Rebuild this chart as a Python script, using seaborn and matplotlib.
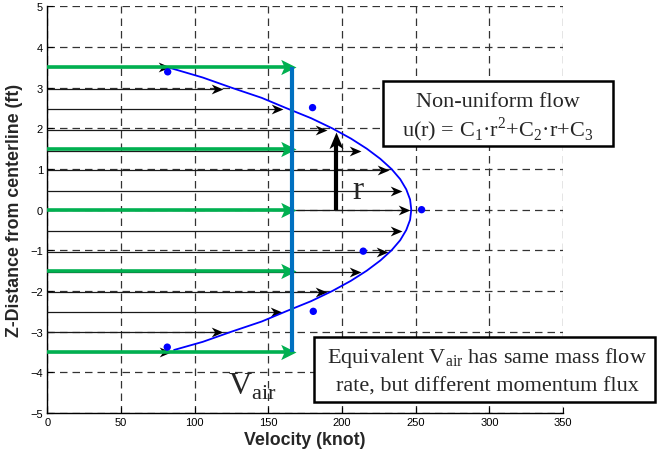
import numpy as np
import pandas as pd
import matplotlib
matplotlib.use("Agg")
import matplotlib.pyplot as plt
from matplotlib.path import Path
from matplotlib.patches import Rectangle
import seaborn as sns

# ---------------- data ----------------
x_ticks = [0, 50, 100, 150, 200, 250, 300, 350]
y_ticks = [-5, -4, -3, -2, -1, 0, 1, 2, 3, 4, 5]

# velocity-profile arrows (height r in ft, arrow tip velocity in knot)
arrow_r = [3.5, 2.97, 2.47, 1.96, 1.45, 0.98, 0.45, 0.0,
           -0.52, -1.04, -1.53, -2.02, -2.52, -3.0, -3.5]
arrow_tip = [83, 119.5, 160, 190, 213, 232, 240.5, 246,
             240.5, 231, 213, 190, 159, 119.5, 84]

# fitted parabolic profile u(r)
curve_r = [3.5, 3.25, 3.0, 2.75, 2.5, 2.25, 2.0, 1.75, 1.5, 1.25, 1.0, 0.75,
           0.5, 0.25, 0.0, -0.25, -0.5, -0.75, -1.0, -1.25, -1.5, -1.75,
           -2.0, -2.25, -2.5, -2.75, -3.0, -3.25, -3.45]
curve_u = [82, 105.5, 125, 145.5, 162, 179, 193.4, 206, 216.8, 226, 233.6,
           239.5, 243.6, 246.2, 247, 246.2, 243.6, 239.5, 233.6, 226, 216.8,
           206, 193.4, 179, 162, 145.5, 125, 105.5, 86]

# measured points
meas_u = [81.7, 180, 254, 214.4, 180.5, 81.4]
meas_r = [3.39, 2.51, 0.0, -1.02, -2.5, -3.38]

# equivalent uniform flow
v_air = 166
green_r = [3.5, 1.5, 0.0, -1.5, -3.5]
green_tip = [169, 169, 169, 169, 169]

r_arrow_x = 196
r_arrow_top = 1.92

# ---------------- style ----------------
sns.set_style("white")
plt.rcParams['font.family'] = ['Liberation Sans', 'DejaVu Sans']

fig = plt.figure(figsize=(6.57, 4.60), dpi=100)
ax = fig.add_axes([0.072, 0.100, 0.785, 0.884])

def stealth_right(hw=0.45, notch=0.72):
    verts = [(0, 0), (-1, hw), (-notch, 0), (-1, -hw), (0, 0)]
    codes = [Path.MOVETO, Path.LINETO, Path.LINETO, Path.LINETO, Path.CLOSEPOLY]
    return Path(verts, codes)

def stealth_up(hw=0.42, notch=0.72):
    verts = [(0, 0), (hw, -1), (0, -notch), (-hw, -1), (0, 0)]
    codes = [Path.MOVETO, Path.LINETO, Path.LINETO, Path.LINETO, Path.CLOSEPOLY]
    return Path(verts, codes)

# black profile arrows
for r, t in zip(arrow_r, arrow_tip):
    ax.plot([0, t - 3], [r, r], color='#1a1a1a', lw=0.9, zorder=3,
            solid_capstyle='butt')
ax.plot(arrow_tip, arrow_r, ls='none', marker=stealth_right(0.42, 0.7),
        ms=17, color='black', mew=0, zorder=3)

# parabolic curve
curve_df = pd.DataFrame({'u': curve_u, 'r': curve_r})
sns.lineplot(data=curve_df, x='u', y='r', sort=False, estimator=None,
             color='#0000ff', lw=1.3, ax=ax, zorder=4)

# green uniform-flow arrows
for r, t in zip(green_r, green_tip):
    ax.plot([0, t - 4], [r, r], color='#00b050', lw=2.6, zorder=5,
            solid_capstyle='butt')
ax.plot(green_tip, green_r, ls='none', marker=stealth_right(0.5, 0.78),
        ms=22, color='#00b050', mew=0, zorder=5)

# blue V_air line
ax.plot([v_air, v_air], [max(green_r), min(green_r)], color='#0070c0',
        lw=3.0, zorder=6, solid_capstyle='butt')

# measured dots
meas_df = pd.DataFrame({'u': meas_u, 'r': meas_r})
sns.scatterplot(data=meas_df, x='u', y='r', color='#0000ff', s=28,
                edgecolor='none', ax=ax, zorder=7)

# thick r arrow
ax.plot([r_arrow_x, r_arrow_x], [0, r_arrow_top - 0.25], color='black',
        lw=3.0, zorder=8, solid_capstyle='butt')
ax.plot([r_arrow_x], [r_arrow_top], ls='none', marker=stealth_up(0.42, 0.72),
        ms=24, color='black', mew=0, zorder=8)
ax.text(211, 0.5, 'r', fontsize=24, family=['Liberation Serif'],
        ha='center', va='center', zorder=9)

# V_air label
ax.text(122.6, -4.53, r'V$_\mathregular{air}$', fontsize=23,
        family=['Liberation Serif'], ha='left', va='baseline', zorder=9)

# axes
ax.set_xlim(0, 350)
ax.set_ylim(-5, 5)
ax.set_xticks(x_ticks)
ax.set_yticks(y_ticks)
ax.grid(True, color='#333333', lw=0.9, linestyle='--', dashes=(6, 4))
ax.set_axisbelow(True)
for s in ['top', 'right']:
    ax.spines[s].set_visible(False)
for s in ['left', 'bottom']:
    ax.spines[s].set_visible(True)
    ax.spines[s].set_color('black')
    ax.spines[s].set_linewidth(1.0)
ax.tick_params(direction='in', length=4, width=0.8, labelsize=8,
               colors='black', pad=3, left=True, bottom=True)
ax.set_xlabel('Velocity (knot)', fontsize=12.8, fontweight='bold', labelpad=3)
ax.set_ylabel('Z-Distance from centerline (ft)', fontsize=12.8,
              fontweight='bold', labelpad=5)

# text boxes
box1 = Rectangle((0.651, 0.6565), 0.446, 0.160, transform=ax.transAxes,
                 facecolor='white', edgecolor='black', lw=1.8,
                 clip_on=False, zorder=10)
ax.add_patch(box1)
ax.text(0.874, 0.766, 'Non-uniform flow', transform=ax.transAxes,
        fontsize=16, family=['Liberation Serif'], ha='center', va='center',
        zorder=11, clip_on=False)
ax.text(0.874, 0.700,
        r'u(r) = C$_\mathregular{1}$·r$^\mathregular{2}$+C$_\mathregular{2}$·r+C$_\mathregular{3}$',
        transform=ax.transAxes, fontsize=16, family=['Liberation Serif'],
        ha='center', va='center', zorder=11, clip_on=False)

box2 = Rectangle((0.517, 0.027), 0.662, 0.160, transform=ax.transAxes,
                 facecolor='white', edgecolor='black', lw=1.8,
                 clip_on=False, zorder=10)
ax.add_patch(box2)
ax.text(0.853, 0.137, r'Equivalent V$_\mathregular{air}$ has same mass flow',
        transform=ax.transAxes, fontsize=16, family=['Liberation Serif'],
        ha='center', va='center', zorder=11, clip_on=False)
ax.text(0.853, 0.066, 'rate, but different momentum flux',
        transform=ax.transAxes, fontsize=16, family=['Liberation Serif'],
        ha='center', va='center', zorder=11, clip_on=False)

fig.savefig('out.png', dpi=100)
